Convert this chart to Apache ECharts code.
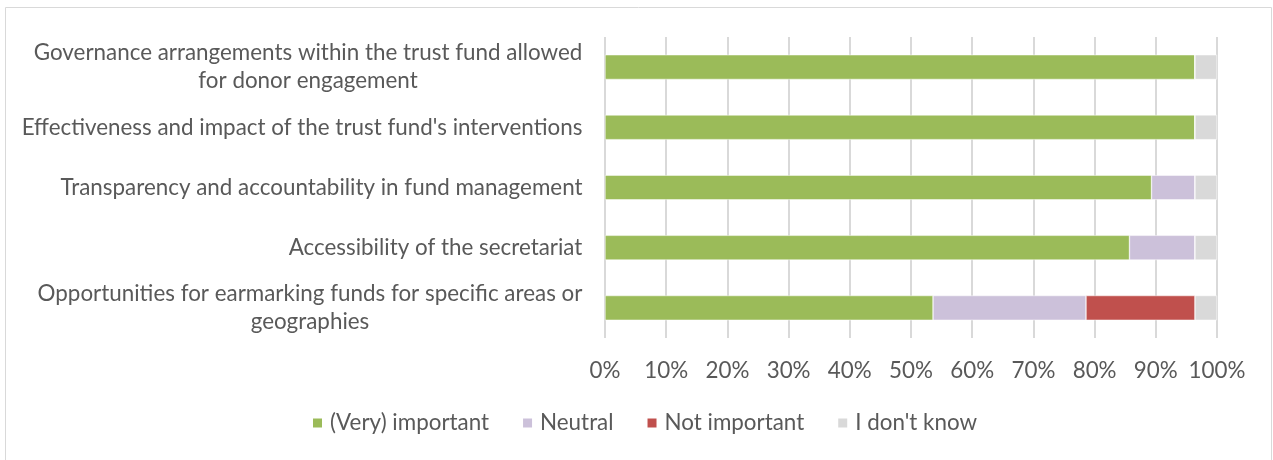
<!DOCTYPE html>
<html>
<head>
<meta charset="utf-8">
<style>
  html, body { margin: 0; padding: 0; background: #ffffff; }
  #chart { width: 1273px; height: 460px; }
</style>
<script src="https://cdn.jsdelivr.net/npm/echarts@6/dist/echarts.min.js"></script>
</head>
<body>
<div id="chart"></div>
<script>
// Survey items, listed top to bottom; '\n' marks a wrapped line
const categories = [
  'Governance arrangements within the trust fund allowed\nfor donor engagement',
  "Effectiveness and impact of the trust fund's interventions",
  'Transparency and accountability in fund management',
  'Accessibility of the secretariat',
  'Opportunities for earmarking funds for specific areas or\ngeographies'
];

// Share of respondents (%) per answer
const veryImportant = [96.4, 96.4, 89.3, 85.7, 53.6];
const neutral       = [0,    0,    7.1,  10.7, 25.0];
const notImportant  = [0,    0,    0,    0,    17.8];
const dontKnow      = [3.6,  3.6,  3.6,  3.6,  3.6];

const seriesNames = ['(Very) important', 'Neutral', 'Not important', "I don't know"];
const seriesColors = ['#9BBB59', '#CCC1DA', '#C0504D', '#D9D9D9'];

const FONT = 'Lato';
const FONT_SIZE = 22.4;
const TEXT_COLOR = '#595959';

// Multi-line labels: each line is centred inside a box as wide as its longest line
const ctx = document.createElement('canvas').getContext('2d');
ctx.font = FONT_SIZE + 'px ' + FONT;
const rich = {};
categories.forEach((c, i) => {
  const w = Math.max(...c.split('\n').map(l => ctx.measureText(l).width));
  rich['c' + i] = { width: Math.ceil(w) + 1, align: 'center', fontFamily: FONT, fontSize: FONT_SIZE, color: TEXT_COLOR, lineHeight: 28 };
});

const chart = echarts.init(document.getElementById('chart'), null, { renderer: 'canvas' });

const seriesData = [veryImportant, neutral, notImportant, dontKnow];

chart.setOption({
  animation: false,
  textStyle: { fontFamily: FONT },
  graphic: [{
    type: 'rect',
    shape: { x: 5.5, y: 7.5, width: 1266, height: 470 },
    style: { fill: 'none', stroke: '#D9D9D9', lineWidth: 1 },
    silent: true
  }],
  grid: { left: 605, right: 56, top: 37, height: 301, containLabel: false },
  xAxis: {
    type: 'value',
    min: 0, max: 100, interval: 10,
    axisLine: { show: false },
    axisTick: { show: false },
    splitLine: { show: true, lineStyle: { color: '#D9D9D9', width: 2 } },
    axisLabel: {
      formatter: v => v + '%',
      color: TEXT_COLOR, fontFamily: FONT, fontSize: FONT_SIZE, margin: 22
    }
  },
  yAxis: {
    type: 'category',
    inverse: true,
    data: categories,
    axisLine: { show: false },
    axisTick: { show: false },
    axisLabel: {
      margin: 22,
      color: TEXT_COLOR, fontFamily: FONT, fontSize: FONT_SIZE, lineHeight: 28,
      formatter: (value, idx) => value.split('\n').map(l => '{c' + idx + '|' + l + '}').join('\n'),
      rich: rich
    }
  },
  legend: {
    data: seriesNames,
    left: 311, top: 411,
    padding: 0,
    icon: 'rect',
    itemWidth: 11, itemHeight: 11,
    itemGap: 32,
    textStyle: { color: TEXT_COLOR, fontFamily: FONT, fontSize: FONT_SIZE, lineHeight: 24, padding: [0, 0, 0, 2] }
  },
  series: seriesNames.map((name, k) => ({
    name: name,
    type: 'bar',
    stack: 'total',
    barWidth: '41%',
    itemStyle: { color: seriesColors[k], borderColor: '#ffffff', borderWidth: 0.5 },
    data: seriesData[k]
  }))
});
</script>
</body>
</html>
